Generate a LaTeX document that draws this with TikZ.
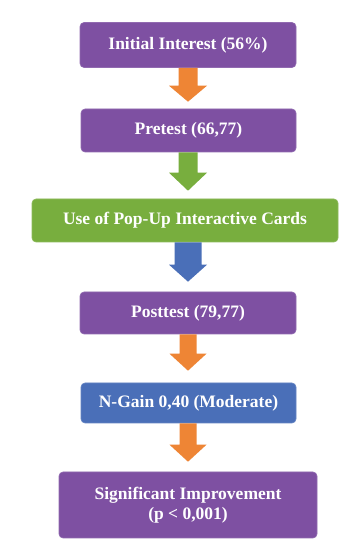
\documentclass[tikz,border=0pt]{standalone}
\usepackage{fontspec}
\setmainfont{Liberation Serif}
\usetikzlibrary{calc}
\definecolor{boxpurple}{HTML}{7E50A2}
\definecolor{boxgreen}{HTML}{78AE3E}
\definecolor{boxblue}{HTML}{4A6FB8}
\definecolor{arrorange}{HTML}{EE8535}
\definecolor{arrgreen}{HTML}{78AE3E}
\definecolor{arrblue}{HTML}{4A6FB8}
\tikzset{
  flowbox/.style={rounded corners=4pt, text=white, font=\bfseries\fontsize{17.5}{20}\selectfont,
    align=center, inner sep=0pt, draw=#1!85!white, line width=0.6pt, fill=#1},
}
% block arrow on the central axis, from the bottom of one box towards the top of the next
% #1 colour, #2 from, #3 to, #4 shaft half width, #5 head half width, #6 head length, #7 gap
\newcommand{\blockarrow}[7]{%
  \fill[#1] ($(axis |- #2.south)+(-#4pt,0)$) -- ($(axis |- #2.south)+(#4pt,0)$)
    -- ($(axis |- #3.north)+(#4pt,#7pt+#6pt)$) -- ($(axis |- #3.north)+(#5pt,#7pt+#6pt)$)
    -- ($(axis |- #3.north)+(0,#7pt)$)
    -- ($(axis |- #3.north)+(-#5pt,#7pt+#6pt)$) -- ($(axis |- #3.north)+(-#4pt,#7pt+#6pt)$) -- cycle;}
\begin{document}
\begin{tikzpicture}[x=1pt,y=1pt]
\useasboundingbox[fill=white] (0,0) rectangle (348,542);
\coordinate (axis) at (188,0);
\node[flowbox=boxpurple, minimum width=216pt, minimum height=45pt] (interest) at (188,497) {Initial Interest (56\%)};
\node[flowbox=boxpurple, minimum width=215pt, minimum height=43pt] (pretest) at (188.5,411.5) {Pretest (66,77)};
\node[flowbox=boxgreen, minimum width=306pt, minimum height=43pt] (cards) at (185,321.5) {Use of Pop-Up Interactive Cards};
\node[flowbox=boxpurple, minimum width=216pt, minimum height=42pt] (posttest) at (188,229) {Posttest (79,77)};
\node[flowbox=boxblue, minimum width=215pt, minimum height=40pt] (ngain) at (188.5,139) {N-Gain 0,40 (Moderate)};
\node[flowbox=boxpurple, minimum width=258pt, minimum height=66pt] (improve) at (188,37) {Significant Improvement\\(p < 0,001)};
\blockarrow{arrorange}{interest}{pretest}{9.5}{19}{16}{7}
\blockarrow{arrgreen}{pretest}{cards}{9.5}{19}{18}{8}
\blockarrow{arrblue}{cards}{posttest}{13.5}{19}{17}{10}
\blockarrow{arrorange}{posttest}{ngain}{8.5}{18.5}{17}{12}
\blockarrow{arrorange}{ngain}{improve}{8.5}{18.5}{17}{10}
\end{tikzpicture}
\end{document}
